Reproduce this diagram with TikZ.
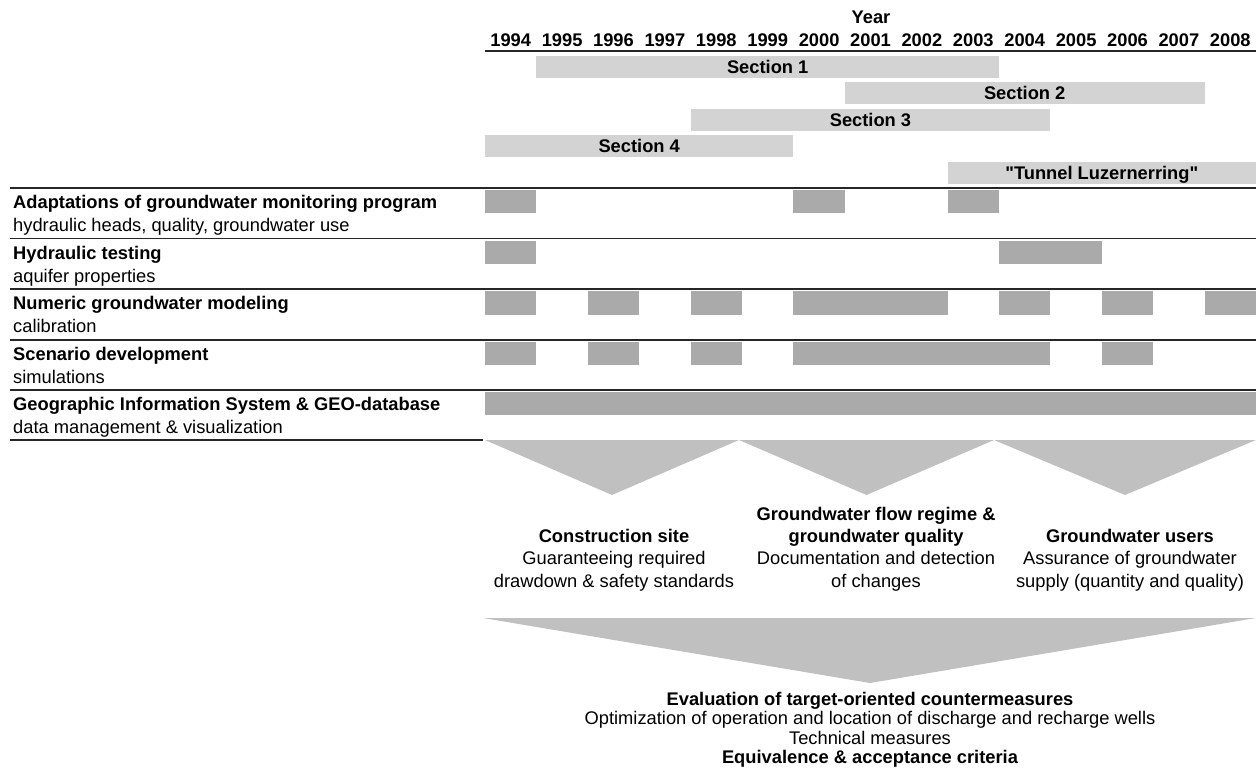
\documentclass[tikz,border=0pt]{standalone}
\usepackage{fontspec}
\setmainfont{Liberation Sans}[Ligatures=TeXOff]
\definecolor{barlight}{RGB}{211,211,211}
\definecolor{boxdark}{RGB}{170,170,170}
\definecolor{trigray}{RGB}{192,192,192}
\newcommand{\fs}{\fontsize{18.3}{21}\selectfont}
\begin{document}
\begin{tikzpicture}[x=1pt,y=-1pt,
  declare function={X(\t)=485+51.4*(\t-1994);},
  txt/.style={inner sep=0pt,font=\fs},
  btxt/.style={inner sep=0pt,font=\fs\bfseries},
  secbar/.style={fill=barlight},
  taskbox/.style={fill=boxdark},
  tri/.style={fill=trigray},
  rulel/.style={line width=1.7pt,black!85}]
\useasboundingbox (0,0) rectangle (1259,776);

% header
\node[btxt,anchor=base] (year) at (871,24) {Year};
\foreach \t in {1994,...,2008}
  \node[btxt,anchor=base] (y\t) at ({X(\t)+25.7},47) {\t};
\coordinate (hl) at (485,51);
\coordinate (hr) at (1256,51);
\draw[rulel] (hl) -- (hr);

% section bars
\fill[secbar] ({X(1995)},56) rectangle ({X(2004)},78);
\node[btxt,anchor=base] (s1) at ({(X(1995)+X(2004))/2},73.5) {Section 1};
\fill[secbar] ({X(2001)},82) rectangle ({X(2008)},104);
\node[btxt,anchor=base] (s2) at ({(X(2001)+X(2008))/2},99.5) {Section 2};
\fill[secbar] ({X(1998)},108.7) rectangle ({X(2005)},130.7);
\node[btxt,anchor=base] (s3) at ({(X(1998)+X(2005))/2},126.2) {Section 3};
\fill[secbar] ({X(1994)},134.8) rectangle ({X(2000)},157);
\node[btxt,anchor=base] (s4) at ({(X(1994)+X(2000))/2},152.4) {Section 4};
\fill[secbar] ({X(2003)},161.8) rectangle ({X(2009)},184);
\node[btxt,anchor=base] (s5) at ({(X(2003)+X(2009))/2},179.4) {"Tunnel Luzernerring"};

% row rules
\foreach \ly/\n in {188/1,238.5/2,289/3,340/4,390/5}{
  \coordinate (l\n a) at (10,\ly);
  \coordinate (l\n b) at (1256,\ly);
  \draw[rulel] (l\n a) -- (l\n b);
}
\coordinate (l6a) at (10,440);
\coordinate (l6b) at (483,440);
\draw[rulel] (l6a) -- (l6b);

% row labels
\node[btxt,anchor=base west] (r1a) at (13,208.5) {Adaptations of groundwater monitoring program};
\node[txt,anchor=base west] (r1b) at (13,231.5) {hydraulic heads, quality, groundwater use};
\node[btxt,anchor=base west] (r2a) at (13,259) {Hydraulic testing};
\node[txt,anchor=base west] (r2b) at (13,282) {aquifer properties};
\node[btxt,anchor=base west] (r3a) at (13,309.5) {Numeric groundwater modeling};
\node[txt,anchor=base west] (r3b) at (13,332.5) {calibration};
\node[btxt,anchor=base west] (r4a) at (13,360.5) {Scenario development};
\node[txt,anchor=base west] (r4b) at (13,383.5) {simulations};
\node[btxt,anchor=base west] (r5a) at (13,410.5) {Geographic Information System \& GEO-database};
\node[txt,anchor=base west] (r5b) at (13,433.5) {data management \& visualization};

% task boxes
\foreach \a/\b in {1994/1995,2000/2001,2003/2004}
  \fill[taskbox] ({X(\a)},190) rectangle ({X(\b)},213.3);
\foreach \a/\b in {1994/1995,2004/2006}
  \fill[taskbox] ({X(\a)},240.5) rectangle ({X(\b)},264);
\foreach \a/\b in {1994/1995,1996/1997,1998/1999,2000/2003,2004/2005,2006/2007,2008/2009}
  \fill[taskbox] ({X(\a)},291) rectangle ({X(\b)},314.7);
\foreach \a/\b in {1994/1995,1996/1997,1998/1999,2000/2005,2006/2007}
  \fill[taskbox] ({X(\a)},341.8) rectangle ({X(\b)},365);
\fill[taskbox] ({X(1994)},392) rectangle ({X(2009)},415);

% small triangles
\fill[tri] (485,440) -- (739,440) -- (612,495) -- cycle;
\fill[tri] (739,440) -- (994,440) -- (866.5,495) -- cycle;
\fill[tri] (994,440) -- (1256,440) -- (1125,495) -- cycle;

% block texts
\node[btxt,anchor=base] (c1) at (614,542.3) {Construction site};
\node[txt,anchor=base] (c2) at (614,564.6) {Guaranteeing required};
\node[txt,anchor=base] (c3) at (614,587) {drawdown \& safety standards};

\node[btxt,anchor=base] (g1) at (876,520) {Groundwater flow regime \&};
\node[btxt,anchor=base] (g2) at (876,542.3) {groundwater quality};
\node[txt,anchor=base] (g3) at (876,564.6) {Documentation and detection};
\node[txt,anchor=base] (g4) at (876,587) {of changes};

\node[btxt,anchor=base] (u1) at (1130,542.3) {Groundwater users};
\node[txt,anchor=base] (u2) at (1130,564.6) {Assurance of groundwater};
\node[txt,anchor=base] (u3) at (1130,587) {supply (quantity and quality)};

% big triangle
\fill[tri] (483,618) -- (1256,618) -- (870,683) -- cycle;

% bottom texts
\node[btxt,anchor=base] (e1) at (870,705) {Evaluation of target-oriented countermeasures};
\node[txt,anchor=base] (e2) at (870,724.5) {Optimization of operation and location of discharge and recharge wells};
\node[txt,anchor=base] (e3) at (870,744) {Technical measures};
\node[btxt,anchor=base] (e4) at (870,763.5) {Equivalence \& acceptance criteria};
\end{tikzpicture}
\end{document}
